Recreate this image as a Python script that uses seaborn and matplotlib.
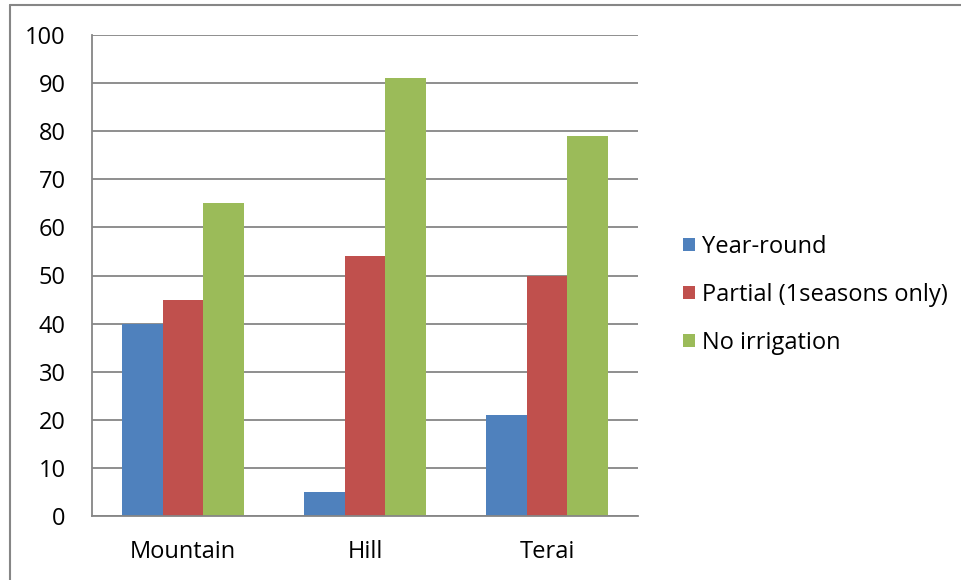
import matplotlib
matplotlib.use("Agg")
import matplotlib.pyplot as plt
import seaborn as sns
import pandas as pd
from matplotlib.lines import Line2D

categories = ["Mountain", "Hill", "Terai"]
series = ["Year-round", "Partial (1seasons only)", "No irrigation"]
year_round = [40, 5, 21]
partial = [45, 54, 50]
no_irrigation = [65, 91, 79]
y_ticks = [0, 10, 20, 30, 40, 50, 60, 70, 80, 90, 100]

colors = ["#4F81BD", "#C0504D", "#9BBB59"]

rows = []
for s, vals in zip(series, [year_round, partial, no_irrigation]):
    for c, v in zip(categories, vals):
        rows.append({"Region": c, "Series": s, "Value": v})
df = pd.DataFrame(rows)

sns.set_style("white")
plt.rcParams['font.family'] = ['Open Sans', 'DejaVu Sans']
plt.rcParams['text.color'] = 'black'

FS = 17

fig = plt.figure(figsize=(9.61, 5.80), dpi=100)
ax = fig.add_axes([92/961, 64/580, (638-92)/961, (516-35)/580])

sns.barplot(data=df, x="Region", y="Value", hue="Series", palette=colors,
            width=0.665, saturation=1, ax=ax, edgecolor="none", linewidth=0)

ax.set_ylim(0, 100)
ax.set_xlim(-0.5, 2.5)
ax.set_yticks(y_ticks)
ax.set_yticklabels([str(t) for t in y_ticks], fontsize=FS, color="black")
ax.yaxis.grid(True, color="#868686", linewidth=1.3)
ax.set_axisbelow(True)
ax.set_xlabel("")
ax.set_ylabel("")

ax.set_xticks(range(len(categories)))
ax.set_xticklabels(categories, fontsize=FS, color="black")
ax.tick_params(axis="x", which="major", length=0, pad=17)
ax.set_xticks([-0.5, 0.5, 1.5, 2.5], minor=True)
ax.tick_params(axis="x", which="minor", length=7, width=1.3, color="#868686", direction="out")
ax.tick_params(axis="y", which="major", length=7, width=1.3, color="#868686", direction="out", pad=12)

for side in ["top", "right"]:
    ax.spines[side].set_visible(False)
for side in ["left", "bottom"]:
    ax.spines[side].set_color("#868686")
    ax.spines[side].set_linewidth(1.3)

handles, labels = ax.get_legend_handles_labels()
leg = ax.legend(handles, labels, loc="center left", bbox_to_anchor=(662/961, 285/580),
                bbox_transform=fig.transFigure, frameon=False, fontsize=FS,
                handlelength=0.5, handleheight=0.5, handletextpad=0.3, labelspacing=1.02)
for t in leg.get_texts():
    t.set_color("black")

# outer chart border
fig.add_artist(Line2D([10/961, 10/961], [0, 1 - 5/580], transform=fig.transFigure, color="#868686", linewidth=1.5))
fig.add_artist(Line2D([10/961, 1], [1 - 5/580, 1 - 5/580], transform=fig.transFigure, color="#868686", linewidth=1.5))

fig.savefig("out.png", dpi=100)
